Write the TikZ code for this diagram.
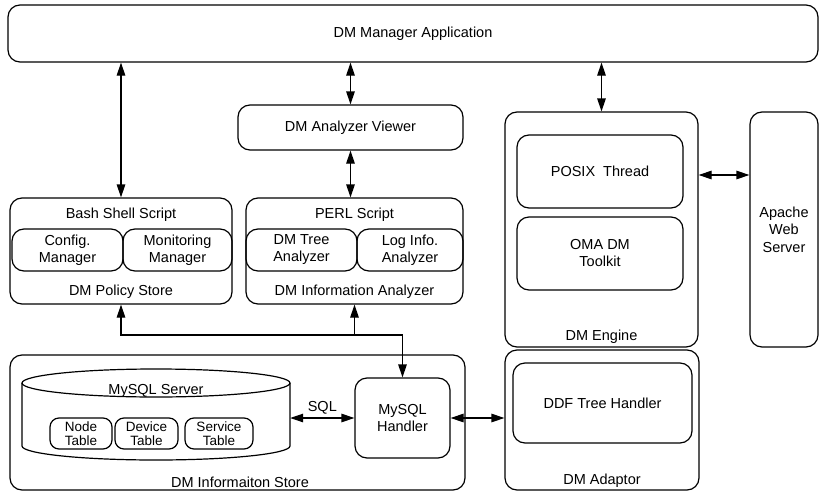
\documentclass[tikz,border=0pt]{standalone}
\usepackage{fontspec}
\setmainfont{Liberation Sans}
\usetikzlibrary{arrows.meta}
\begin{document}
\begin{tikzpicture}[x=1pt,y=-1pt,
  font=\fontsize{14.5}{17}\selectfont,
  box/.style={draw, line width=1.2pt, rounded corners=12pt, inner sep=0pt, align=center},
  tbl/.style={draw, line width=1.2pt, rounded corners=9pt, inner sep=0pt, align=center,
     font=\fontsize{13.5}{14.5}\selectfont},
  lbl/.style={inner sep=0pt, align=center},
  con/.style={line width=1.2pt},
  tip/.tip={Triangle[length=13pt,width=8.5pt]},
  both/.style={con, tip-tip},
  one/.style={con, -tip}]
\useasboundingbox (0,0) rectangle (821,495);
% top
\node[box, minimum width=810pt, minimum height=57pt] (app) at (413,33.5) {DM Manager Application};
\node[box, minimum width=225pt, minimum height=45pt] (viewer) at (350.5,127.5) {DM Analyzer Viewer};
% policy store
\node[box, minimum width=222pt, minimum height=106pt] (policy) at (121,251) {};
\node[box, minimum width=111pt, minimum height=42pt] (config) at (67.5,250) {Config.\\Manager};
\node[box, minimum width=109pt, minimum height=42pt] (monitor) at (177.5,250) {Monitoring\\Manager};
\node[lbl] (bash) at (121,215) {Bash Shell Script};
\node[lbl] (policyl) at (121,292) {DM Policy Store};
% analyzer
\node[box, minimum width=217pt, minimum height=106pt] (analyzer) at (354.5,251) {};
\node[box, minimum width=111pt, minimum height=42pt] (tree) at (301.5,250) {DM Tree\\Analyzer};
\node[box, minimum width=106pt, minimum height=42pt] (log) at (410,250) {Log Info.\\Analyzer};
\node[lbl] (perl) at (354.5,215) {PERL Script};
\node[lbl] (analyzerl) at (354.5,292) {DM Information Analyzer};
% engine
\node[box, minimum width=193pt, minimum height=235pt] (engine) at (601.5,229.5) {};
\node[box, minimum width=166pt, minimum height=73pt] (posix) at (600,171.5) {POSIX\ \ Thread};
\node[box, minimum width=166pt, minimum height=73pt] (oma) at (600,253.5) {OMA DM\\Toolkit};
\node[lbl] (enginel) at (601.5,337) {DM Engine};
% apache
\node[box, minimum width=68pt, minimum height=235pt, font=\fontsize{14.5}{17.5}\selectfont] (apache) at (784,229.5) {Apache\\Web\\Server};
% adaptor
\node[box, minimum width=194pt, minimum height=140pt] (adaptor) at (602,420) {};
\node[box, minimum width=179pt, minimum height=80pt] (ddf) at (602.5,403) {DDF Tree Handler};
\node[lbl] (adaptorl) at (602,481) {DM Adaptor};
% information store
\node[box, minimum width=455pt, minimum height=135pt] (store) at (237.5,422.5) {};
\node[lbl] (storel) at (240,482) {DM Informaiton Store};
\node[box, minimum width=95pt, minimum height=80pt, font=\fontsize{14.5}{17.5}\selectfont] (handler) at (402.5,418) {MySQL\\Handler};
% mysql server cylinder
\node[inner sep=0pt, minimum width=268pt, minimum height=60pt] (mysql) at (156,418) {};
\draw[line width=1.2pt] (156,383) ellipse [x radius=134pt, y radius=14pt];
\draw[line width=1.2pt] (22,383) -- (22,446)
   .. controls (22,453.7) and (82,460) .. (156,460)
   .. controls (230,460) and (290,453.7) .. (290,446) -- (290,383);
\node[lbl] (mysqll) at (156,391) {MySQL Server};
\node[tbl, minimum width=62pt, minimum height=31pt] (node) at (81,433.5) {Node\\Table};
\node[tbl, minimum width=63pt, minimum height=31pt] (device) at (146.5,433.5) {Device\\Table};
\node[tbl, minimum width=68pt, minimum height=31pt] (service) at (219,433.5) {Service\\Table};
% connectors
\draw[both] (app.south -| policy.north) -- (policy.north);
\draw[both] (app.south -| viewer.north) -- (viewer.north);
\draw[both] (app.south -| engine.north) -- (engine.north);
\draw[both] (viewer.south) -- (viewer.south |- analyzer.north);
\draw[both] (engine.east |- 0,175) -- (apache.west |- 0,175);
\draw[both] (mysql.east) -- (handler.west) node[midway, above=3pt, inner sep=0pt] (sql) {SQL};
\draw[both] (handler.east) -- (handler.east -| adaptor.west);
\coordinate (j) at (handler.north |- 0,335);
\draw[both] (policy.south) |- (j) -- (handler.north);
\draw[one] (analyzer.south |- j) -- (analyzer.south);
\end{tikzpicture}
\end{document}
